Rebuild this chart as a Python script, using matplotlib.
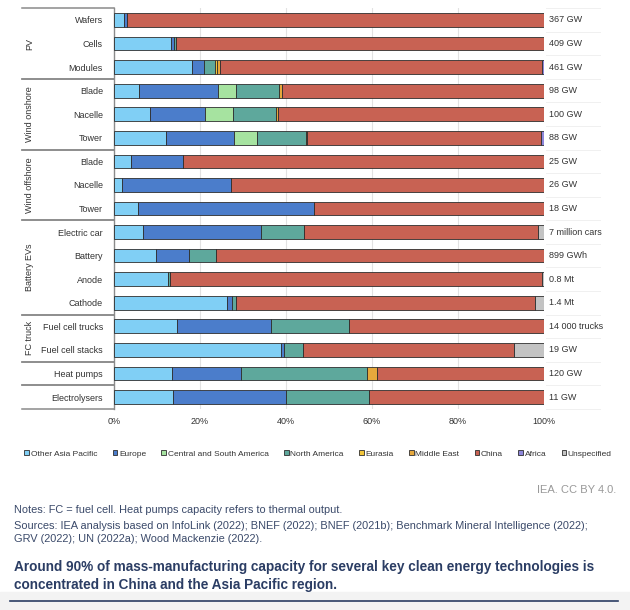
import matplotlib
matplotlib.use("Agg")
import matplotlib.pyplot as plt
import numpy as np

plt.rcParams["font.family"] = ["Liberation Sans", "DejaVu Sans"]

# rows, top to bottom
categories = ["Wafers", "Cells", "Modules",
              "Blade", "Nacelle", "Tower",
              "Blade", "Nacelle", "Tower",
              "Electric car", "Battery", "Anode", "Cathode",
              "Fuel cell trucks", "Fuel cell stacks",
              "Heat pumps", "Electrolysers"]
capacities = ["367 GW", "409 GW", "461 GW",
              "98 GW", "100 GW", "88 GW",
              "25 GW", "26 GW", "18 GW",
              "7 million cars", "899 GWh", "0.8 Mt", "1.4 Mt",
              "14 000 trucks", "19 GW",
              "120 GW", "11 GW"]
groups = [("PV", 0, 2), ("Wind onshore", 3, 5), ("Wind offshore", 6, 8),
          ("Battery EVs", 9, 12), ("FC truck", 13, 14),
          ("", 15, 15), ("", 16, 16)]

# share of capacity by region, %
other_asia_pacific = [2.4, 13.3, 18.2, 5.7, 8.3, 12.2, 3.9, 1.9, 5.5,
                      6.7, 9.7, 12.5, 26.2, 14.6, 38.8, 13.6, 13.8]
europe = [0.7, 0.6, 2.7, 18.5, 12.8, 15.7, 12.2, 25.4, 41.0,
          27.6, 7.7, 0.0, 1.3, 21.8, 0.7, 15.9, 26.1]
central_south_america = [0, 0, 0, 4.1, 6.5, 5.3, 0, 0, 0,
                         0, 0, 0, 0, 0, 0, 0, 0]
north_america = [0, 0.6, 2.6, 10.0, 10.0, 11.4, 0, 0, 0,
                 10.0, 6.4, 0.5, 0.9, 18.3, 4.5, 29.3, 19.3]
eurasia = [0, 0, 0.5, 0, 0, 0, 0, 0, 0,
           0, 0, 0, 0, 0, 0, 0, 0]
middle_east = [0, 0, 0.6, 0.8, 0.6, 0.3, 0, 0, 0,
               0, 0, 0, 0, 0, 0, 2.4, 0]
china = [96.9, 85.5, 74.9, 60.9, 61.8, 54.5, 83.9, 72.7, 53.5,
         54.2, 76.2, 86.5, 69.5, 45.3, 49.0, 38.8, 40.8]
africa = [0, 0, 0.5, 0, 0, 0.6, 0, 0, 0,
          0, 0, 0, 0, 0, 0, 0, 0]
unspecified = [0, 0, 0, 0, 0, 0, 0, 0, 0,
               1.5, 0, 0.5, 2.1, 0, 7.0, 0, 0]

regions = ["Other Asia Pacific", "Europe", "Central and South America",
           "North America", "Eurasia", "Middle East", "China", "Africa",
           "Unspecified"]
shares = [other_asia_pacific, europe, central_south_america, north_america,
          eurasia, middle_east, china, africa, unspecified]
colors = ["#80CFF5", "#4B7DCB", "#A6E3A0", "#5EA89C", "#F2C53A",
          "#E6A83C", "#C86253", "#8D86DA", "#C3C3C3"]

fig = plt.figure(figsize=(6.3, 6.1), dpi=100)
ax = fig.add_axes([114 / 630, 1 - 408.8 / 610, 430 / 630, 400.6 / 610])

y = np.arange(len(categories))
left = np.zeros(len(categories))
for name, vals, col in zip(regions, shares, colors):
    vals = np.array(vals, dtype=float)
    ax.barh(y, vals, left=left, height=0.58, color=col, edgecolor="#2e2e2e",
            linewidth=0.6, label=name, zorder=3)
    left += vals

ax.set_xlim(0, 100)
ax.set_ylim(len(categories) - 0.5, -0.5)
ax.set_xticks([0, 20, 40, 60, 80, 100])
ax.set_xticklabels(["0%", "20%", "40%", "60%", "80%", "100%"],
                   fontsize=6.5, color="#333333")
ax.set_yticks(y)
ax.set_yticklabels(categories, fontsize=6.5, color="#333333")
ax.tick_params(axis="both", length=0, pad=8)
ax.tick_params(axis="x", pad=6)
for v in [20, 40, 60, 80]:
    ax.axvline(v, color="#e2e2e2", lw=0.8, zorder=1)
for s in ["top", "right", "bottom"]:
    ax.spines[s].set_visible(False)
ax.spines["left"].set_color("#8a8a8a")
ax.spines["left"].set_linewidth(1.0)

# capacity labels on the right
for i, txt in enumerate(capacities):
    ax.text(101.2, i, txt, fontsize=6.5, color="#333333", va="center",
            ha="left", clip_on=False)
for i in range(len(categories) + 1):
    ax.plot([100.5, 113], [i - 0.5, i - 0.5], color="#f0f0f0", lw=0.7,
            clip_on=False, zorder=0)

# group separators and labels on the left
for name, a, b in groups:
    for edge in (a - 0.5, b + 0.5):
        ax.plot([-21.4, 0], [edge, edge], color="#8a8a8a", lw=1.1,
                clip_on=False)
    if name:
        ax.text(-19.6, (a + b) / 2, name, rotation=90, fontsize=6.5,
                color="#333333", ha="center", va="center")

fig.legend(*ax.get_legend_handles_labels(), loc="center",
           bbox_to_anchor=(0.505, 1 - 454 / 610), ncol=9, frameon=False,
           fontsize=6.0, handlelength=0.55, handleheight=0.55,
           handletextpad=0.2, columnspacing=1.85, labelcolor="#333333")

fig.text(616 / 630, 1 - 490 / 610, "IEA. CC BY 4.0.", fontsize=8,
         color="#999999", ha="right", va="center")
note_col = "#3b4a6a"
fig.text(14 / 630, 1 - 510 / 610,
         "Notes: FC = fuel cell. Heat pumps capacity refers to thermal output.",
         fontsize=7.9, color=note_col, va="center")
fig.text(14 / 630, 1 - 526 / 610,
         "Sources: IEA analysis based on InfoLink (2022); BNEF (2022); BNEF (2021b); "
         "Benchmark Mineral Intelligence (2022);",
         fontsize=7.9, color=note_col, va="center")
fig.text(14 / 630, 1 - 539 / 610,
         "GRV (2022); UN (2022a); Wood Mackenzie (2022).",
         fontsize=7.9, color=note_col, va="center")
title_col = "#2b3d64"
fig.text(14 / 630, 1 - 567 / 610,
         "Around 90% of mass-manufacturing capacity for several key clean energy "
         "technologies is",
         fontsize=9.85, fontweight="bold", color=title_col, va="center")
fig.text(14 / 630, 1 - 585 / 610,
         "concentrated in China and the Asia Pacific region.",
         fontsize=9.85, fontweight="bold", color=title_col, va="center")
fig.add_artist(plt.Line2D([10 / 630, 618 / 630], [1 - 601 / 610, 1 - 601 / 610],
                          color="#2b3d64", lw=1.2))
fig.patches.append(plt.Rectangle((0, 0), 1, 1 - 592 / 610, transform=fig.transFigure,
                                 color="#f3f3f3", zorder=-1))

fig.savefig("out.png", dpi=100)
